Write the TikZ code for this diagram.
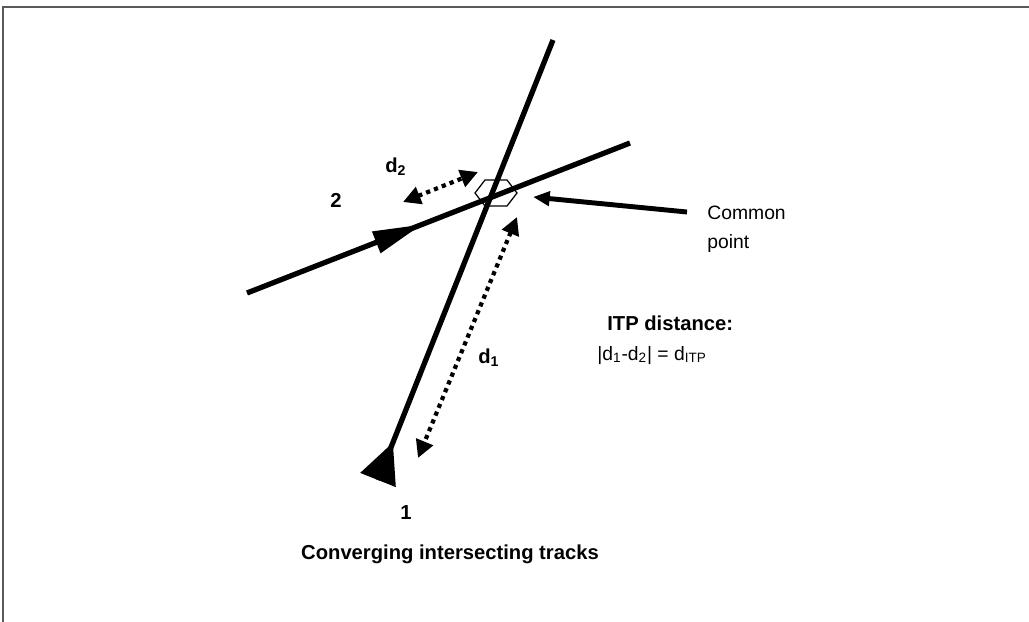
\documentclass[tikz,border=0pt]{standalone}
\usepackage{fontspec}
\setmainfont{Liberation Sans}
\usetikzlibrary{arrows.meta,decorations.markings}
\begin{document}
\begin{tikzpicture}
[
    x=0.02cm, y=-0.02cm,
    track/.style={line width=3pt},
    gaparrow/.style={line width=2.4pt, dash pattern=on 2.4pt off 2.4pt,
        {Triangle[length=10pt,width=10pt]}-{Triangle[length=10pt,width=10pt]}},
    tracklabel/.style={font=\bfseries\fontsize{11.5}{14}\selectfont, inner sep=0pt},
    plainlabel/.style={font=\fontsize{11}{16.5}\selectfont, inner sep=0pt}
]
    \useasboundingbox (0,0) rectangle (1029,622);
    \clip (0,0) rectangle (1029,622);
    \draw[line width=1.2pt, black!65] (3,640) -- (3,7) -- (1040,7);

    \coordinate (t1s) at (378,480);
    \coordinate (t1e) at (553,40);
    \coordinate (t2s) at (247,293);
    \coordinate (t2e) at (630,143);
    \coordinate (cp) at (496,193);
    \coordinate (d2a) at (403,202);
    \coordinate (d2b) at (478,172);
    \coordinate (d1a) at (517,217);
    \coordinate (d1b) at (418,458);
    \coordinate (cpt) at (533,197);
    \coordinate (cps) at (687,212);

    \draw[track, postaction={decorate}, decoration={markings,
        mark=at position 23pt with {\arrow{Triangle[length=23pt,width=21pt]}}}] (t1s) -- (t1e);
    \draw[track, postaction={decorate}, decoration={markings,
        mark=at position 107pt with {\arrow{Triangle[length=28pt,width=12.5pt]}}}] (t2s) -- (t2e);
    \draw[line width=0.7pt, shift={(cp)}]
        (-21,0) -- (-11,-13) -- (11,-13) -- (21,0) -- (11,13) -- (-11,13) -- cycle;

    \draw[gaparrow] (d2a) -- (d2b);
    \draw[gaparrow] (d1a) -- (d1b);
    \draw[line width=2.8pt, -{Triangle[length=9.5pt,width=8pt]}] (cps) -- (cpt);

    \node[tracklabel] (n2) at (336,200) {2};
    \node[tracklabel] (n1) at (406,513) {1};
    \node[tracklabel, anchor=base west] (dd2) at (385,172) {d\textsubscript{2}};
    \node[tracklabel, anchor=base west] (dd1) at (478,363) {d\textsubscript{1}};
    \node[plainlabel, anchor=north west, align=left] (cpl) at (707,206) {Common\\point};
    \node[tracklabel, anchor=base west] (itp) at (607,330) {ITP distance:};
    \node[plainlabel, anchor=base west] (itpf) at (597,360)
        {|d\textsubscript{1}-d\textsubscript{2}| = d\textsubscript{ITP}};
    \node[tracklabel, anchor=base] (cap) at (450,559) {Converging intersecting tracks};
\end{tikzpicture}
\end{document}
